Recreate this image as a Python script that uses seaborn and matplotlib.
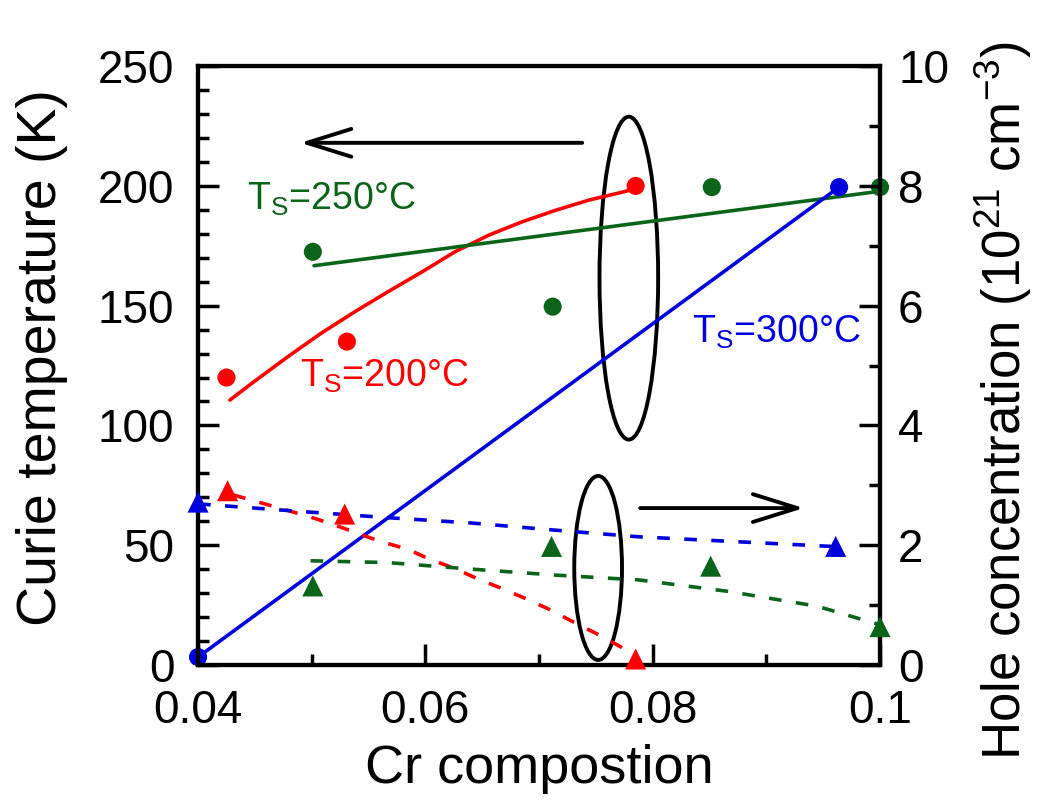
import pandas as pd
import seaborn as sns
import matplotlib.pyplot as plt
from matplotlib.patches import Ellipse
from matplotlib.ticker import MultipleLocator

# ---DATA-----------------------------------------------------------------------
# Curie temperature (K) vs Cr composition, three growth temperatures
tc_200_x = [0.0425, 0.0531, 0.0785]
tc_200_y = [120, 135, 200]
tc_250_x = [0.0501, 0.0712, 0.0852, 0.1]
tc_250_y = [172.5, 149.6, 199.5, 199.5]
tc_300_x = [0.04, 0.0964]
tc_300_y = [3.3, 199.5]

# guide lines drawn through the Tc points
fit_200_x = [0.0428, 0.0449, 0.0479, 0.0508, 0.0538, 0.0567, 0.0597,
             0.0626, 0.0656, 0.0685, 0.0715, 0.0744, 0.0774, 0.0785]
fit_200_y = [110.6, 118.2, 128.7, 138.4, 147.5, 155.8, 164.1,
             172.5, 179.5, 185.0, 189.9, 194.1, 197.5, 198.9]
fit_250_x = [0.0502, 0.0997]
fit_250_y = [166.7, 197.6]
fit_300_x = [0.04, 0.0964]
fit_300_y = [3.3, 199.5]

# hole concentration (1e21 cm^-3)
p_200_x = [0.0426, 0.0529, 0.0785]
p_200_y = [2.91, 2.52, 0.1]
p_250_x = [0.0501, 0.0711, 0.0851, 0.1]
p_250_y = [1.32, 1.98, 1.65, 0.64]
p_300_x = [0.04, 0.0961]
p_300_y = [2.72, 1.98]

dash_200_x = [0.0431, 0.0455, 0.0479, 0.0499, 0.052, 0.054, 0.0561, 0.0585, 0.0602,
              0.0626, 0.0647, 0.0667, 0.0688, 0.071, 0.0732, 0.0753, 0.0774, 0.0787]
dash_200_y = [2.84, 2.71, 2.58, 2.47, 2.34, 2.20, 2.06, 1.93, 1.78,
              1.61, 1.43, 1.28, 1.11, 0.92, 0.70, 0.50, 0.28, 0.11]
dash_250_x = [0.0499, 0.0567, 0.0641, 0.0715, 0.0788, 0.0866, 0.0945, 0.1]
dash_250_y = [1.74, 1.71, 1.60, 1.50, 1.42, 1.23, 0.98, 0.67]
dash_300_x = [0.04, 0.0493, 0.0567, 0.0641, 0.0715, 0.0788, 0.0957]
dash_300_y = [2.69, 2.56, 2.46, 2.37, 2.25, 2.14, 1.98]

RED, GREEN, BLUE = "#ff0000", "#0a6419", "#0000dd"

# ---PLOT-----------------------------------------------------------------------
sns.set_style("white")
plt.rcParams["font.family"] = ["Liberation Sans", "DejaVu Sans"]
plt.rcParams["mathtext.fontset"] = "custom"
plt.rcParams["mathtext.rm"] = "Liberation Sans"
for key in ("text.color", "axes.labelcolor", "xtick.color", "ytick.color"):
    plt.rcParams[key] = "black"

fig = plt.figure(figsize=(10.38, 8.07), dpi=100)
ax = fig.add_axes([0.1908, 0.176, 0.657, 0.742])
ax2 = ax.twinx()

series = [
    (tc_200_x, tc_200_y, fit_200_x, fit_200_y, p_200_x, p_200_y, dash_200_x, dash_200_y, RED),
    (tc_250_x, tc_250_y, fit_250_x, fit_250_y, p_250_x, p_250_y, dash_250_x, dash_250_y, GREEN),
    (tc_300_x, tc_300_y, fit_300_x, fit_300_y, p_300_x, p_300_y, dash_300_x, dash_300_y, BLUE),
]
for tx, ty, fx, fy, px, py, dx, dy, col in series:
    sns.lineplot(x=fx, y=fy, ax=ax, color=col, linewidth=2.6, sort=False)
    sns.scatterplot(x=tx, y=ty, ax=ax, color=col, s=170, edgecolor="none",
                    clip_on=False, zorder=5)
    sns.lineplot(x=dx, y=dy, ax=ax2, color=col, linewidth=2.6, sort=False)
    ax2.lines[-1].set_dashes((3.5, 4))
    sns.scatterplot(x=px, y=py, ax=ax2, color=col, marker="^", s=230,
                    edgecolor="none", clip_on=False, zorder=5)

ax.set_xlim(0.04, 0.1)
ax.set_ylim(0, 250)
ax2.set_ylim(0, 10)

ax.xaxis.set_major_locator(MultipleLocator(0.02))
ax.xaxis.set_minor_locator(MultipleLocator(0.01))
ax.yaxis.set_major_locator(MultipleLocator(50))
ax.yaxis.set_minor_locator(MultipleLocator(10))
ax2.yaxis.set_major_locator(MultipleLocator(2))
ax2.yaxis.set_minor_locator(MultipleLocator(1))
ax.set_xticks([0.04, 0.06, 0.08, 0.1], ["0.04", "0.06", "0.08", "0.1"])

ax.tick_params(axis="both", which="major", direction="in", length=15, width=2.5,
               labelsize=33, pad=17, left=True, bottom=True, right=False, top=False)
ax.tick_params(axis="both", which="minor", direction="in", length=8, width=2.5,
               left=True, bottom=True, right=False, top=False)
ax2.tick_params(axis="y", which="major", direction="in", length=15, width=2.5,
                labelsize=33, pad=13)
ax2.tick_params(axis="y", which="minor", direction="in", length=8, width=2.5)
for a in (ax, ax2):
    for sp in a.spines.values():
        sp.set_linewidth(3)
        sp.set_color("black")

ax.set_xlabel("Cr compostion", fontsize=39, labelpad=8)
ax.set_ylabel("Curie temperature (K)", fontsize=40)
ax.yaxis.set_label_coords(-0.19, 0.514)
ax2.set_ylabel(r"Hole concentration (10$^{21}$ cm$^{-3}$)", fontsize=38)
ax2.yaxis.set_label_coords(1.135, 0.442)

# labels for the growth temperatures
ax.text(0.0443, 190, r"T$_\mathregular{S}$=250°C", color=GREEN, fontsize=27)
ax.text(0.049, 116, r"T$_\mathregular{S}$=200°C", color=RED, fontsize=27)
ax.text(0.0835, 134.4, r"T$_\mathregular{S}$=300°C", color=BLUE, fontsize=27)

# ellipses and arrows pointing to the matching axis
ax.add_patch(Ellipse((0.0779, 161.5), 0.00516, 134.8, fill=False, lw=2.8, color="black"))
ax.add_patch(Ellipse((0.0752, 40.5), 0.0042, 76.8, fill=False, lw=2.8, color="black"))
arrow = dict(arrowstyle="->,head_length=1.6,head_width=0.5", lw=2.8,
             color="black", mutation_scale=20, shrinkA=0, shrinkB=0)
ax.annotate("", xy=(0.049, 218), xytext=(0.0738, 218), arrowprops=arrow)
ax.annotate("", xy=(0.0933, 65.5), xytext=(0.0789, 65.5), arrowprops=arrow)

fig.savefig("out.png", dpi=100)
